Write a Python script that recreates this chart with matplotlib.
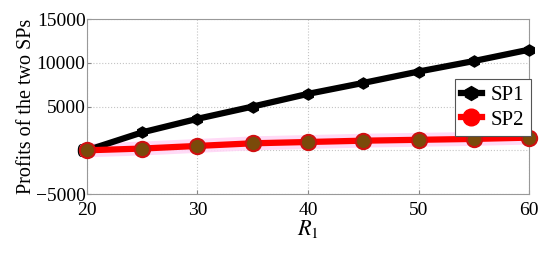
import matplotlib.pyplot as plt
from matplotlib.lines import Line2D

plt.rcParams['font.family'] = ['Liberation Serif', 'DejaVu Serif']
plt.rcParams['mathtext.fontset'] = 'stix'

r1 = [20, 25, 30, 35, 40, 45, 50, 55, 60]
sp1 = [0, 2050, 3600, 5000, 6450, 7700, 9000, 10200, 11500]
sp2 = [0, 200, 500, 800, 950, 1100, 1200, 1300, 1450]

fig = plt.figure(figsize=(5.5, 2.54), dpi=100)
ax = fig.add_axes([0.158, 0.236, 0.804, 0.689])

ax.plot(r1, sp1, color='black', lw=4.5, marker='h', ms=8, zorder=3, clip_on=False)
# faint pink halo under SP2
ax.plot(r1, sp2, color='#ffd6f6', lw=10, alpha=0.9, solid_capstyle='butt', zorder=2, clip_on=False)
ax.plot(r1, sp2, color='red', lw=4.5, marker='o', ms=11, clip_on=False,
        markerfacecolor='#7a4a0a', markeredgecolor='#d01010', markeredgewidth=1.5, zorder=4)

ax.set_xlim(20, 60)
ax.set_ylim(-5000, 15000)
ax.set_xticks([20, 30, 40, 50, 60])
ax.set_yticks([-5000, 0, 5000, 10000, 15000])
ax.set_yticklabels(['\u22125000', '0', '5000', '10000', '15000'])
ax.tick_params(direction='in', labelsize=14, length=3, color='#888888')
ax.tick_params(axis='x', pad=6)
ax.tick_params(axis='y', pad=1)
ax.grid(True, linestyle=':', color='#c4c4c4', lw=0.8)
for s in ax.spines.values():
    s.set_color('#999999')
    s.set_linewidth(0.8)

ax.set_xlabel('$R_1$', fontsize=16, labelpad=-1)
ax.set_ylabel('Profits of the two SPs', fontsize=14.5, labelpad=0)

handles = [Line2D([], [], color='black', lw=4.5, marker='h', ms=10),
           Line2D([], [], color='red', lw=4.5, marker='o', ms=12)]
leg = ax.legend(handles, ['SP1', 'SP2'], loc='upper right', bbox_to_anchor=(1.004, 0.657),
                fontsize=15, fancybox=False, edgecolor='#555555', framealpha=1,
                handlelength=1.0, handletextpad=0.45, borderpad=0.3, labelspacing=0.25,
                borderaxespad=0)
leg.get_frame().set_linewidth(0.8)

fig.savefig('out.png', dpi=100)
